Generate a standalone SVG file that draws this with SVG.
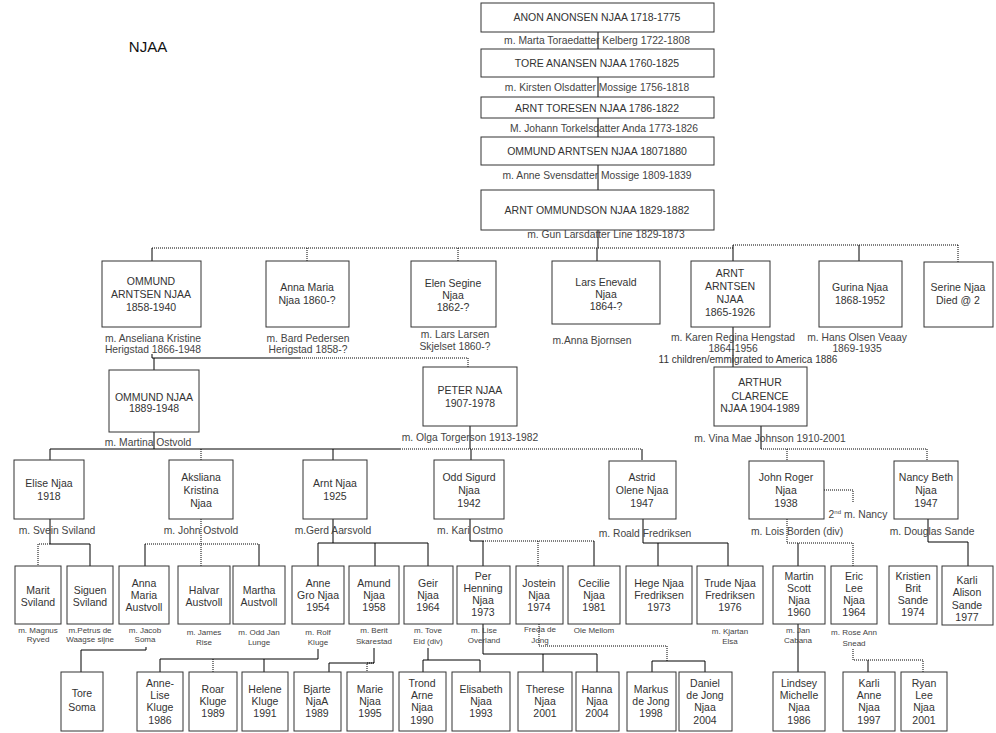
<svg xmlns="http://www.w3.org/2000/svg" width="996" height="733" viewBox="0 0 996 733">
<style>
text{font-family:"Liberation Sans",Arial,sans-serif;fill:#333;text-anchor:middle}
.b rect{fill:#fff;stroke:#333;stroke-width:1}
.b text{font-size:10.5px}
.m{font-size:10.3px;fill:#444}
.sm{font-size:8px;fill:#444}
.s{stroke:#000;stroke-width:1;fill:none}
.d{stroke:#000;stroke-width:1;fill:none;stroke-dasharray:1 1}
</style>
<rect width="996" height="733" fill="#fff"/>
<text x="148" y="52" style="font-size:15px;fill:#111">NJAA</text>

<g id="connectors">
<path class="s" d="M598 32V248"/>
<path class="d" d="M152 248H733M733 245H958"/>
<path class="s" d="M152 248V261M597 248V261M733 245V261M859 245V261"/>
<path class="d" d="M307 248V261M458 248V261M958 245V262"/>
<path class="s" d="M152 354V358H300M154 358V370M733 327V367"/>
<path class="d" d="M300 358H468V367"/>
<path class="s" d="M154 432V449M470 426V449M761 426V449M50 449H400M50 449V460M333 449V460M471 449V460M642 449V460"/>
<path class="d" d="M400 449H642M761 449H927V461M201 449V460M787 449V461"/>
<path class="d" d="M824 490H853V502"/>
<path class="s" d="M50 519V544H90V566"/>
<path class="d" d="M50 544H38V566"/>
<path class="d" d="M201 519V566M145 544H259"/>
<path class="s" d="M145 544V566M259 544V566"/>
<path class="s" d="M333 519V543M318 543H428M318 543V566M375 543V566M428 543V566"/>
<path class="s" d="M470 519V541H483V566"/>
<path class="d" d="M483 541H594M538 541V566"/>
<path class="s" d="M594 541V566"/>
<path class="s" d="M643 519V543H728M658 543V566M728 543V566"/>
<path class="d" d="M787 519V543H853V566"/>
<path class="s" d="M798 543V566"/>
<path class="s" d="M928 519V542H968V566"/>
<path class="s" d="M146 647V650H81V672"/>
<path class="s" d="M318 649V659H160V672M264 659V672"/>
<path class="d" d="M213 659V672"/>
<path class="s" d="M374 648V663H329V672"/>
<path class="d" d="M374 663H367V672"/>
<path class="s" d="M428 648V660M423 660H480M423 660V672M480 660V672"/>
<path class="s" d="M483 624V654H597V672M543 654V672"/>
<path class="d" d="M539 624V646H667V661"/>
<path class="s" d="M652 661H705M652 661V672M705 661V672"/>
<path class="s" d="M798 624V672"/>
<path class="d" d="M853 649V660H923V672"/>
<path class="s" d="M868 660V672"/>
</g>

<g id="marriages">
<text class="m" x="597" y="44">m. Marta Toraedatter Kelberg 1722-1808</text>
<text class="m" x="597" y="91">m. Kirsten Olsdatter Mossige 1756-1818</text>
<text class="m" x="604" y="132">M. Johann Torkelsdatter Anda 1773-1826</text>
<text class="m" x="597" y="179">m. Anne Svensdatter Mossige 1809-1839</text>
<text class="m" x="606" y="238">m. Gun Larsdatter Line 1829-1873</text>
<text class="m" x="153" y="342">m. Anseliana Kristine</text>
<text class="m" x="153" y="353">Herigstad 1866-1948</text>
<text class="m" x="308" y="342">m. Bard Pedersen</text>
<text class="m" x="308" y="353">Herigstad 1858-?</text>
<text class="m" x="455" y="338">m. Lars Larsen</text>
<text class="m" x="455" y="350">Skjelset 1860-?</text>
<text class="m" x="592" y="344">m.Anna Bjornsen</text>
<text class="m" x="733" y="341">m. Karen Regina Hengstad</text>
<text class="m" x="733" y="352">1864-1956</text>
<text x="748" y="363" style="font-size:10px">11 children/emmigrated to America 1886</text>
<text class="m" x="857" y="341">m. Hans Olsen Veaay</text>
<text class="m" x="857" y="352">1869-1935</text>
<text class="m" x="148" y="446">m. Martina Ostvold</text>
<text class="m" x="470" y="441">m. Olga Torgerson 1913-1982</text>
<text class="m" x="770" y="442">m. Vina Mae Johnson 1910-2001</text>
<text class="m" x="57" y="534">m. Svein Sviland</text>
<text class="m" x="201" y="534">m. John Ostvold</text>
<text class="m" x="333" y="534">m.Gerd Aarsvold</text>
<text class="m" x="470" y="534">m. Kari Ostmo</text>
<text class="m" x="645" y="537">m. Roald Fredriksen</text>
<text class="m" x="797" y="535">m. Lois Borden (div)</text>
<text class="m" x="932" y="535">m. Douglas Sande</text>
<text class="m" x="858" y="518">2<tspan style="font-size:6px" dy="-4">nd</tspan><tspan dy="4"> m. Nancy</tspan></text>
<text class="sm" x="38" y="633">m. Magnus</text>
<text class="sm" x="38" y="642">Ryved</text>
<text class="sm" x="90" y="633">m.Petrus de</text>
<text class="sm" x="90" y="642">Waagse sijne</text>
<text class="sm" x="145" y="633">m. Jacob</text>
<text class="sm" x="145" y="642">Soma</text>
<text class="sm" x="204" y="635">m. James</text>
<text class="sm" x="204" y="645">Rise</text>
<text class="sm" x="259" y="635">m. Odd Jan</text>
<text class="sm" x="259" y="645">Lunge</text>
<text class="sm" x="318" y="635">m. Rolf</text>
<text class="sm" x="318" y="645">Kluge</text>
<text class="sm" x="374" y="633">m. Berit</text>
<text class="sm" x="374" y="644">Skarestad</text>
<text class="sm" x="428" y="633">m. Tove</text>
<text class="sm" x="428" y="644">Eid (div)</text>
<text class="sm" x="484" y="633">m. Lise</text>
<text class="sm" x="484" y="643">Overland</text>
<text class="sm" x="540" y="632">Freda de</text>
<text class="sm" x="540" y="643">Jong</text>
<text class="sm" x="594" y="633">Ole Mellom</text>
<text class="sm" x="730" y="634">m. Kjartan</text>
<text class="sm" x="730" y="644">Elsa</text>
<text class="sm" x="798" y="633">m. Jan</text>
<text class="sm" x="798" y="643">Cabana</text>
<text class="sm" x="854" y="635">m. Rose Ann</text>
<text class="sm" x="854" y="646">Snead</text>
</g>

<g id="anon" class="b"><rect x="481" y="3" width="233" height="29"/><text x="597" y="21">ANON ANONSEN NJAA 1718-1775</text></g>
<g id="tore" class="b"><rect x="481" y="49" width="233" height="28"/><text x="597" y="67">TORE ANANSEN NJAA 1760-1825</text></g>
<g id="arnt-toresen" class="b"><rect x="481" y="97" width="233" height="21"/><text x="597" y="112">ARNT TORESEN NJAA 1786-1822</text></g>
<g id="ommund-arntsen-1807" class="b"><rect x="481" y="137" width="233" height="28"/><text x="597" y="155">OMMUND ARNTSEN NJAA 18071880</text></g>
<g id="arnt-ommundson" class="b"><rect x="481" y="190" width="233" height="40"/><text x="597" y="214">ARNT OMMUNDSON NJAA 1829-1882</text></g>

<g id="ommund-arntsen-1858" class="b"><rect x="102" y="261" width="99" height="66"/><text x="151" y="285">OMMUND</text><text x="151" y="298">ARNTSEN NJAA</text><text x="151" y="311">1858-1940</text></g>
<g id="anna-maria" class="b"><rect x="266" y="261" width="83" height="66"/><text x="307" y="291">Anna Maria</text><text x="307" y="304">Njaa 1860-?</text></g>
<g id="elen-segine" class="b"><rect x="411" y="261" width="85" height="66"/><text x="453" y="287">Elen Segine</text><text x="453" y="299">Njaa</text><text x="453" y="311">1862-?</text></g>
<g id="lars-enevald" class="b"><rect x="552" y="261" width="108" height="63"/><text x="606" y="286">Lars Enevald</text><text x="606" y="298">Njaa</text><text x="606" y="310">1864-?</text></g>
<g id="arnt-arntsen" class="b"><rect x="691" y="261" width="79" height="66"/><text x="730" y="277">ARNT</text><text x="730" y="290">ARNTSEN</text><text x="730" y="303">NJAA</text><text x="730" y="316">1865-1926</text></g>
<g id="gurina" class="b"><rect x="819" y="261" width="83" height="66"/><text x="860" y="291">Gurina Njaa</text><text x="860" y="304">1868-1952</text></g>
<g id="serine" class="b"><rect x="924" y="262" width="69" height="65"/><text x="958" y="291">Serine Njaa</text><text x="958" y="304">Died @ 2</text></g>

<g id="ommund-njaa" class="b"><rect x="109" y="370" width="90" height="62"/><text x="154" y="401">OMMUND NJAA</text><text x="154" y="412">1889-1948</text></g>
<g id="peter" class="b"><rect x="423" y="367" width="94" height="59"/><text x="470" y="394">PETER NJAA</text><text x="470" y="407">1907-1978</text></g>
<g id="arthur" class="b"><rect x="714" y="367" width="93" height="59"/><text x="760" y="386">ARTHUR</text><text x="760" y="400">CLARENCE</text><text x="760" y="412">NJAA 1904-1989</text></g>

<g id="elise" class="b"><rect x="14" y="460" width="70" height="59"/><text x="49" y="487">Elise Njaa</text><text x="49" y="500">1918</text></g>
<g id="aksliana" class="b"><rect x="169" y="460" width="64" height="59"/><text x="201" y="481">Aksliana</text><text x="201" y="494">Kristina</text><text x="201" y="507">Njaa</text></g>
<g id="arnt-njaa" class="b"><rect x="303" y="460" width="64" height="59"/><text x="335" y="487">Arnt Njaa</text><text x="335" y="500">1925</text></g>
<g id="odd-sigurd" class="b"><rect x="434" y="460" width="70" height="59"/><text x="469" y="481">Odd Sigurd</text><text x="469" y="494">Njaa</text><text x="469" y="507">1942</text></g>
<g id="astrid" class="b"><rect x="609" y="461" width="67" height="58"/><text x="642" y="481">Astrid</text><text x="642" y="494">Olene Njaa</text><text x="642" y="507">1947</text></g>
<g id="john-roger" class="b"><rect x="749" y="461" width="75" height="58"/><text x="786" y="481">John Roger</text><text x="786" y="494">Njaa</text><text x="786" y="507">1938</text></g>
<g id="nancy-beth" class="b"><rect x="894" y="461" width="64" height="58"/><text x="926" y="481">Nancy Beth</text><text x="926" y="494">Njaa</text><text x="926" y="507">1947</text></g>

<g id="marit" class="b"><rect x="15" y="566" width="46" height="58"/><text x="38" y="594">Marit</text><text x="38" y="606">Sviland</text></g>
<g id="siguen" class="b"><rect x="67" y="566" width="46" height="58"/><text x="90" y="594">Siguen</text><text x="90" y="606">Sviland</text></g>
<g id="anna-maria-austvoll" class="b"><rect x="119" y="566" width="50" height="58"/><text x="144" y="587">Anna</text><text x="144" y="599">Maria</text><text x="144" y="611">Austvoll</text></g>
<g id="halvar" class="b"><rect x="178" y="566" width="52" height="58"/><text x="204" y="594">Halvar</text><text x="204" y="606">Austvoll</text></g>
<g id="martha" class="b"><rect x="233" y="566" width="52" height="58"/><text x="259" y="594">Martha</text><text x="259" y="606">Austvoll</text></g>
<g id="anne-gro" class="b"><rect x="292" y="566" width="52" height="58"/><text x="318" y="587">Anne</text><text x="318" y="599">Gro Njaa</text><text x="318" y="611">1954</text></g>
<g id="amund" class="b"><rect x="349" y="566" width="50" height="58"/><text x="374" y="587">Amund</text><text x="374" y="599">Njaa</text><text x="374" y="611">1958</text></g>
<g id="geir" class="b"><rect x="404" y="566" width="49" height="58"/><text x="428" y="587">Geir</text><text x="428" y="599">Njaa</text><text x="428" y="611">1964</text></g>
<g id="per-henning" class="b"><rect x="457" y="566" width="53" height="58"/><text x="483" y="580">Per</text><text x="483" y="592">Henning</text><text x="483" y="604">Njaa</text><text x="483" y="616">1973</text></g>
<g id="jostein" class="b"><rect x="516" y="566" width="47" height="58"/><text x="539" y="587">Jostein</text><text x="539" y="599">Njaa</text><text x="539" y="611">1974</text></g>
<g id="cecilie" class="b"><rect x="568" y="566" width="52" height="58"/><text x="594" y="587">Cecilie</text><text x="594" y="599">Njaa</text><text x="594" y="611">1981</text></g>
<g id="hege" class="b"><rect x="626" y="566" width="66" height="58"/><text x="659" y="587">Hege Njaa</text><text x="659" y="599">Fredriksen</text><text x="659" y="611">1973</text></g>
<g id="trude" class="b"><rect x="697" y="566" width="66" height="58"/><text x="730" y="587">Trude Njaa</text><text x="730" y="599">Fredriksen</text><text x="730" y="611">1976</text></g>
<g id="martin" class="b"><rect x="773" y="566" width="52" height="58"/><text x="799" y="580">Martin</text><text x="799" y="592">Scott</text><text x="799" y="604">Njaa</text><text x="799" y="616">1960</text></g>
<g id="eric" class="b"><rect x="831" y="566" width="46" height="58"/><text x="854" y="580">Eric</text><text x="854" y="592">Lee</text><text x="854" y="604">Njaa</text><text x="854" y="616">1964</text></g>
<g id="kristien" class="b"><rect x="889" y="566" width="48" height="58"/><text x="913" y="580">Kristien</text><text x="913" y="592">Brit</text><text x="913" y="604">Sande</text><text x="913" y="616">1974</text></g>
<g id="karli-alison" class="b"><rect x="942" y="566" width="51" height="59"/><text x="967" y="584">Karli</text><text x="967" y="596">Alison</text><text x="967" y="609">Sande</text><text x="967" y="621">1977</text></g>

<g id="tore-soma" class="b"><rect x="61" y="672" width="42" height="59"/><text x="82" y="697">Tore</text><text x="82" y="711">Soma</text></g>
<g id="anne-lise" class="b"><rect x="137" y="672" width="46" height="59"/><text x="160" y="687">Anne-</text><text x="160" y="699">Lise</text><text x="160" y="711">Kluge</text><text x="160" y="724">1986</text></g>
<g id="roar" class="b"><rect x="189" y="672" width="48" height="59"/><text x="213" y="693">Roar</text><text x="213" y="705">Kluge</text><text x="213" y="717">1989</text></g>
<g id="helene" class="b"><rect x="242" y="672" width="46" height="59"/><text x="265" y="693">Helene</text><text x="265" y="705">Kluge</text><text x="265" y="717">1991</text></g>
<g id="bjarte" class="b"><rect x="294" y="672" width="47" height="59"/><text x="317" y="693">Bjarte</text><text x="317" y="705">NjaA</text><text x="317" y="717">1989</text></g>
<g id="marie" class="b"><rect x="347" y="672" width="46" height="59"/><text x="370" y="693">Marie</text><text x="370" y="705">Njaa</text><text x="370" y="717">1995</text></g>
<g id="trond-arne" class="b"><rect x="399" y="672" width="47" height="59"/><text x="422" y="687">Trond</text><text x="422" y="699">Arne</text><text x="422" y="711">Njaa</text><text x="422" y="724">1990</text></g>
<g id="elisabeth" class="b"><rect x="452" y="672" width="58" height="59"/><text x="481" y="693">Elisabeth</text><text x="481" y="705">Njaa</text><text x="481" y="717">1993</text></g>
<g id="therese" class="b"><rect x="518" y="672" width="54" height="59"/><text x="545" y="693">Therese</text><text x="545" y="705">Njaa</text><text x="545" y="717">2001</text></g>
<g id="hanna" class="b"><rect x="576" y="672" width="43" height="59"/><text x="597" y="693">Hanna</text><text x="597" y="705">Njaa</text><text x="597" y="717">2004</text></g>
<g id="markus" class="b"><rect x="627" y="672" width="49" height="59"/><text x="651" y="693">Markus</text><text x="651" y="705">de Jong</text><text x="651" y="717">1998</text></g>
<g id="daniel" class="b"><rect x="679" y="672" width="53" height="59"/><text x="705" y="687">Daniel</text><text x="705" y="699">de Jong</text><text x="705" y="711">Njaa</text><text x="705" y="724">2004</text></g>
<g id="lindsey" class="b"><rect x="773" y="672" width="52" height="59"/><text x="799" y="687">Lindsey</text><text x="799" y="699">Michelle</text><text x="799" y="711">Njaa</text><text x="799" y="724">1986</text></g>
<g id="karli-anne" class="b"><rect x="843" y="672" width="52" height="59"/><text x="869" y="687">Karli</text><text x="869" y="699">Anne</text><text x="869" y="711">Njaa</text><text x="869" y="724">1997</text></g>
<g id="ryan" class="b"><rect x="901" y="672" width="46" height="59"/><text x="924" y="687">Ryan</text><text x="924" y="699">Lee</text><text x="924" y="711">Njaa</text><text x="924" y="724">2001</text></g>
</svg>
